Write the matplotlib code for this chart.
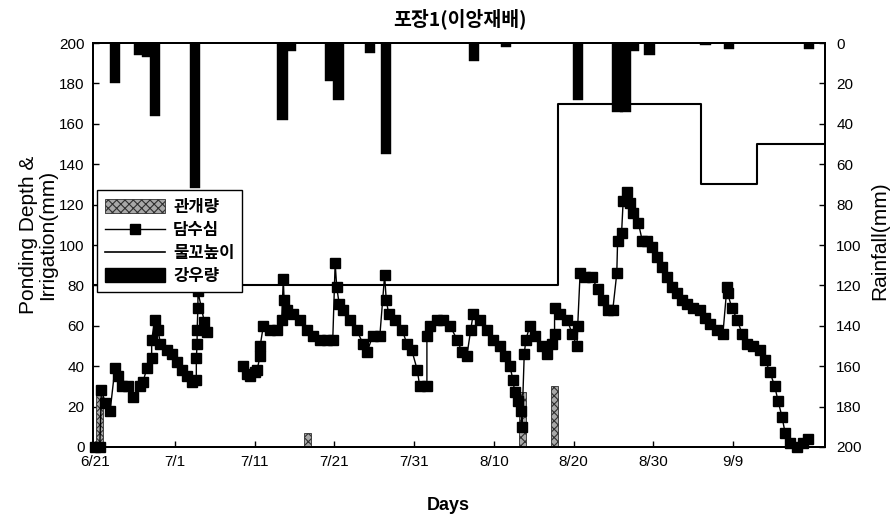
import numpy as np
import matplotlib
matplotlib.use("Agg")
import matplotlib.pyplot as plt
from matplotlib.lines import Line2D
from matplotlib.patches import Patch

plt.rcParams['font.family'] = ['Liberation Sans', 'Noto Sans CJK KR', 'DejaVu Sans']
plt.rcParams['hatch.linewidth'] = 0.8

# ---- data (day 0 = 6/21) ----
tick_days = [0, 10, 20, 30, 40, 50, 60, 70, 80]
tick_labels = ['6/21', '7/1', '7/11', '7/21', '7/31', '8/10', '8/20', '8/30', '9/9']

# daily rainfall (mm), bars hang from the top on the inverted right axis
rain_day = [2, 5, 6, 7, 12, 23, 24, 29, 30, 34, 36, 47, 51, 60, 65, 66, 67, 69, 76, 79, 89]
rain_mm = [20, 6, 7, 36, 72, 38, 4, 19, 28, 5, 55, 9, 2, 28, 34, 34, 4, 6, 1, 3, 3]

# irrigation (mm)
irr_day = [0, 26, 53, 57]
irr_mm = [30, 7, 27, 30]

# weir height (mm), step changes
weir_day = [0, 58, 76, 83]
weir_mm = [80, 170, 130, 150]

# ponding depth (mm); NaN marks the break in records
pond_day = [0.0, 0.6, 0.8, 1.3, 1.9, 2.5, 2.9, 3.4, 4.1, 4.8, 5.6, 6.0, 6.5, 7.1, 7.1,
            7.5, 7.9, 8.2, 9.0, 9.7, 10.3, 10.9, 11.5, 12.2, 12.7, 12.7, 12.8, 12.8,
            12.9, 12.9, 13.7, 14.0, np.nan,
            18.5, 19.1, 19.4, 20.1, 20.3, 20.7, 20.7, 21.1, 21.9, 22.8, 23.4, 23.6,
            23.7, 24.1, 24.8, 25.7, 26.6, 27.3, 28.2, 29.1, 29.8, 30.1, 30.3, 30.6,
            31.1, 32.0, 32.8, 33.6, 34.1, 34.8, 35.7, 36.3, 36.5, 36.8, 37.6, 38.5,
            39.1, 39.7, 40.4, 40.7, 41.6, 41.6, 42.0, 42.9, 43.6, 44.5, 45.4, 46.0,
            46.6, 47.1, 47.4, 48.3, 49.1, 49.9, 50.8, 51.4, 52.0, 52.4, 52.6, 53.0,
            53.4, 53.5, 53.8, 54.0, 54.5, 55.1, 56.0, 56.6, 57.3, 57.6, 57.6, 58.3,
            59.2, 59.8, 60.4, 60.5, 60.8, 61.4, 62.3, 63.0, 63.7, 64.3, 64.9, 65.4,
            65.5, 66.0, 66.2, 66.7, 67.0, 67.4, 68.1, 68.6, 69.2, 69.8, 70.4, 71.1,
            71.7, 72.3, 72.9, 73.6, 74.2, 74.9, 75.8, 76.4, 77.1, 77.9, 78.7, 79.2,
            79.3, 79.8, 80.5, 81.1, 81.7, 82.5, 83.3, 84.0, 84.6, 85.2, 85.6, 86.1,
            86.5, 87.1, 88.0, 88.7, 89.4]
pond_mm = [0, 0, 28, 22, 18, 39, 35, 30, 30, 25, 30, 32, 39, 44, 53,
           63, 58, 51, 48, 46, 42, 38, 35, 32, 33, 44, 51, 58,
           69, 77, 62, 57, np.nan,
           40, 36, 35, 37, 38, 45, 50, 60, 58, 58, 63, 83,
           73, 68, 66, 63, 58, 55, 53, 53, 53, 91, 79, 71,
           68, 63, 58, 51, 47, 55, 55, 85, 73, 66, 63, 58,
           51, 48, 38, 30, 30, 55, 60, 63, 63, 60, 53, 47,
           45, 58, 66, 63, 58, 53, 50, 45, 40, 33, 27, 23,
           18, 10, 46, 53, 60, 55, 50, 46, 51, 56, 69, 66,
           63, 56, 50, 60, 86, 84, 84, 78, 73, 68, 68, 86,
           102, 106, 122, 126, 121, 116, 111, 102, 102, 99, 94, 89,
           84, 79, 76, 73, 71, 69, 68, 64, 61, 58, 56, 79,
           76, 69, 63, 56, 51, 50, 48, 43, 37, 30, 23, 15,
           7, 2, 0, 2, 4]

# ---- figure ----
fig = plt.figure(figsize=(8.96, 5.17), dpi=100)
ax = fig.add_axes([0.1038, 0.1354, 0.8170, 0.7814])
ax2 = ax.twinx()

x_lo, x_hi = -0.25, 91.5
ax.set_xlim(x_lo, x_hi)
ax.set_ylim(0, 200)
ax2.set_ylim(200, 0)

# irrigation bars
irr_x = np.array(irr_day) + 0.6
ax.bar(irr_x, irr_mm, width=0.9, color='#a8a8a8', edgecolor='#303030',
       hatch='xxxx', linewidth=0.6, zorder=2)

# weir height step line
wx = list(weir_day) + [x_hi]
wy = list(weir_mm) + [weir_mm[-1]]
wx[0] = x_lo
ax.step(wx, wy, where='post', color='black', lw=1.5, zorder=3)

# ponding depth
ax.plot(pond_day, pond_mm, color='black', lw=1.0, marker='s', markersize=7.5,
        markerfacecolor='black', markeredgecolor='black', zorder=4, clip_on=False)

# rainfall bars
rain_x = np.array(rain_day) + 0.5
ax2.bar(rain_x, rain_mm, width=1.3, color='black', edgecolor='black', linewidth=0.3)

# axes styling
ax.set_xticks(tick_days)
ax.set_xticklabels(tick_labels)
ax.set_yticks(np.arange(0, 201, 20))
ax2.set_yticks(np.arange(0, 201, 20))
ax.tick_params(direction='in', length=4, width=1, labelsize=11, pad=6)
ax2.tick_params(direction='in', length=4, width=1, labelsize=11, pad=8)
for a in (ax, ax2):
    for s in a.spines.values():
        s.set_linewidth(1.4)

fig.text(0.513, 0.963, '포장1(이앙재배)', ha='center', va='center',
         fontsize=14, fontweight='bold', family=['Noto Sans CJK KR', 'DejaVu Sans'])
fig.text(0.042, 0.545, 'Ponding Depth &\nIrrigation(mm)', rotation=90,
         ha='center', va='center', fontsize=15, linespacing=1.0)
fig.text(0.982, 0.535, 'Rainfall(mm)', rotation=90, ha='center', va='center',
         fontsize=15)
fig.text(0.5, 0.022, 'Days', ha='center', va='center', fontsize=13,
         fontweight='bold')

handles = [
    Patch(facecolor='#a8a8a8', edgecolor='#303030', hatch='xxxx', linewidth=0.6),
    Line2D([], [], color='black', lw=1.0, marker='s', markersize=7.5),
    Line2D([], [], color='black', lw=1.2),
    Patch(facecolor='black', edgecolor='black'),
]
labels = ['관개량', '담수심', '물꼬높이', '강우량']
leg = ax2.legend(handles, labels, loc='upper left', bbox_to_anchor=(0.006, 0.635),
                 frameon=True, fancybox=False, framealpha=1, edgecolor='black',
                 prop={'family': ['Noto Sans CJK KR', 'DejaVu Sans'], 'size': 12,
                       'weight': 'bold'},
                 handlelength=3.6, handleheight=0.9, handletextpad=0.5,
                 labelspacing=0.3, borderpad=0.45, borderaxespad=0)
leg.get_frame().set_linewidth(1.0)
leg.set_zorder(10)

fig.savefig('out.png', dpi=100)
